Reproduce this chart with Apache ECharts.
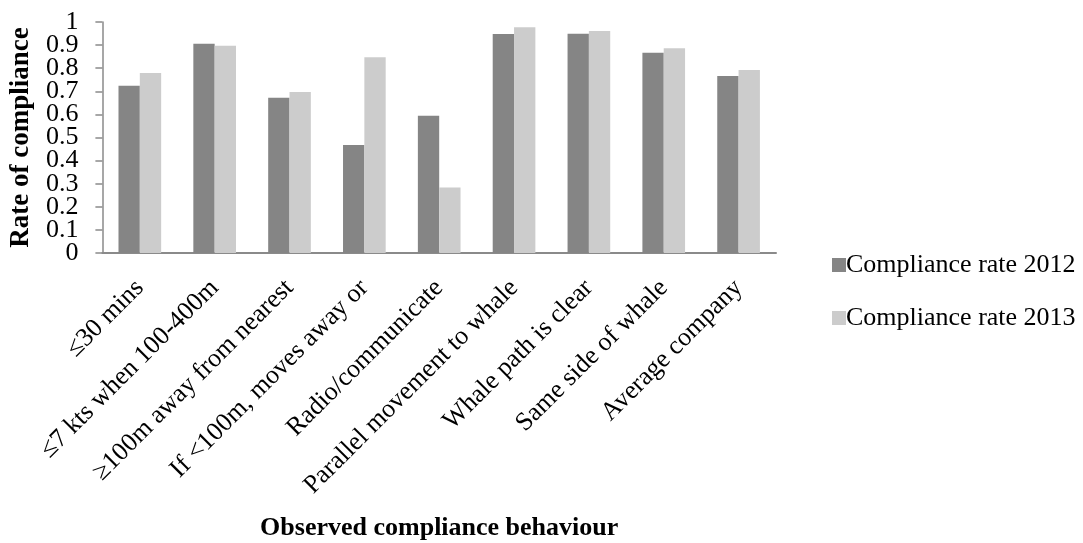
<!DOCTYPE html>
<html>
<head>
<meta charset="utf-8">
<script src="https://cdn.jsdelivr.net/npm/echarts@6/dist/echarts.min.js"></script>
<style>
  html, body { margin: 0; padding: 0; background: #ffffff; }
  #chart { width: 1083px; height: 543px; }
</style>
</head>
<body>
<div id="chart"></div>
<script>
// Observed behaviours (x axis categories)
const categories = [
  '\u226430 mins',
  '\u22647 kts when 100-400m',
  '\u2265100m away from nearest',
  'If <100m, moves away or',
  'Radio/communicate',
  'Parallel movement to whale',
  'Whale path is clear',
  'Same side of whale',
  'Average company'
];

// Compliance rates per behaviour
const rate2012 = [0.724, 0.906, 0.672, 0.467, 0.594, 0.948, 0.949, 0.867, 0.766];
const rate2013 = [0.779, 0.897, 0.697, 0.847, 0.284, 0.977, 0.961, 0.886, 0.792];

const seriesNames = ['Compliance rate 2012', 'Compliance rate 2013'];

// Y tick labels, 0 to 1 in steps of 0.1
const yTickValues = [0, 0.1, 0.2, 0.3, 0.4, 0.5, 0.6, 0.7, 0.8, 0.9, 1];

const serif = "'Liberation Serif', 'Times New Roman', serif";
const axisGrey = '#8a8a8a';

// The labels sit closer together than their glyph boxes, so they are split
// over two overlaid axes (even and odd steps) to keep every one visible.
const evenTicks = yTickValues.filter((v, i) => i % 2 === 0);
const oddTicks = yTickValues.filter((v, i) => i % 2 === 1);

const labelStyle = {
  margin: 24,
  showMinLabel: true,
  showMaxLabel: true,
  fontFamily: serif,
  fontSize: 26,
  color: '#000000',
  formatter: v => String(Math.round(v * 10) / 10)
};

const chart = echarts.init(document.getElementById('chart'), null, { renderer: 'canvas' });

chart.setOption({
  animation: false,
  backgroundColor: '#ffffff',
  textStyle: { fontFamily: serif, color: '#000000' },
  grid: { left: 101, right: 307, top: 22, bottom: 290, containLabel: false },
  legend: {
    orient: 'vertical',
    left: 827,
    top: 245,
    itemWidth: 14,
    itemHeight: 14,
    itemGap: 23,
    icon: 'rect',
    textStyle: { fontFamily: serif, fontSize: 26, color: '#000000', lineHeight: 30, padding: [0, 0, 0, -5] },
    data: seriesNames
  },
  xAxis: {
    type: 'category',
    data: categories,
    name: 'Observed compliance behaviour',
    nameLocation: 'middle',
    nameGap: 262,
    nameTextStyle: { fontFamily: serif, fontSize: 26, fontWeight: 'bold', color: '#000000' },
    axisLine: { lineStyle: { color: axisGrey, width: 2 } },
    axisTick: { show: false },
    axisLabel: {
      rotate: 45,
      interval: 0,
      margin: 31,
      fontFamily: serif,
      fontSize: 26,
      color: '#000000'
    }
  },
  yAxis: [
    {
      type: 'value',
      position: 'left',
      min: yTickValues[0],
      max: yTickValues[yTickValues.length - 1],
      interval: yTickValues[1] - yTickValues[0],
      name: 'Rate of compliance',
      nameLocation: 'middle',
      nameGap: 58,
      nameTextStyle: { fontFamily: serif, fontSize: 27, fontWeight: 'bold', color: '#000000' },
      axisLine: { show: true, lineStyle: { color: axisGrey, width: 1.5 } },
      axisTick: { show: true, length: 7, lineStyle: { color: axisGrey, width: 1.5 } },
      splitLine: { show: false },
      axisLabel: Object.assign({ customValues: evenTicks }, labelStyle)
    },
    {
      type: 'value',
      position: 'left',
      offset: 0,
      min: yTickValues[0],
      max: yTickValues[yTickValues.length - 1],
      interval: yTickValues[1] - yTickValues[0],
      axisLine: { show: false },
      axisTick: { show: false },
      splitLine: { show: false },
      axisLabel: Object.assign({ customValues: oddTicks }, labelStyle)
    }
  ],
  series: [
    {
      name: seriesNames[0],
      type: 'bar',
      yAxisIndex: 0,
      data: rate2012,
      barGap: '0%',
      barCategoryGap: '43%',
      itemStyle: { color: '#858585' }
    },
    {
      name: seriesNames[1],
      type: 'bar',
      yAxisIndex: 0,
      data: rate2013,
      barGap: '0%',
      barCategoryGap: '43%',
      itemStyle: { color: '#cccccc' }
    }
  ]
});
</script>
</body>
</html>
